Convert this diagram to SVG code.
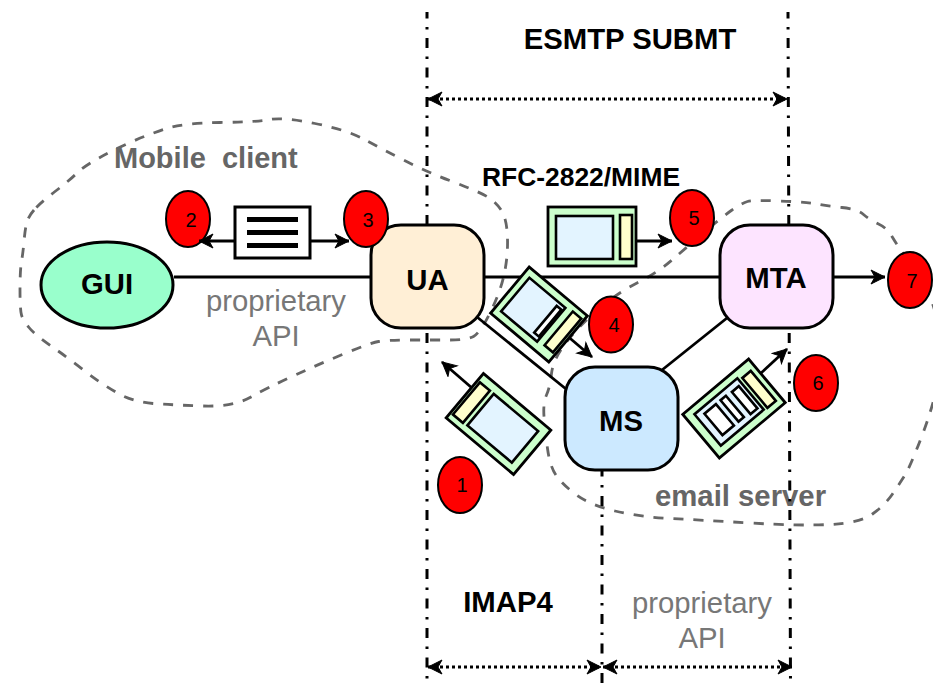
<svg xmlns="http://www.w3.org/2000/svg" width="933" height="683" viewBox="0 0 933 683">
<style>
text{font-family:"Liberation Sans",Arial,sans-serif}
.b{font-weight:bold;font-size:29.300px;fill:#000;text-anchor:middle}
.g{font-size:29.300px;fill:#777;text-anchor:middle}
.h{font-weight:bold;font-size:29px;fill:#666}
.n{font-size:20px;fill:#000;text-anchor:middle}
.blob{fill:none;stroke:#666;stroke-width:2.800;stroke-dasharray:10 10}
.red{fill:#f00;stroke:#000;stroke-width:2}
.box{stroke:#000;stroke-width:3}
.line{fill:none;stroke:#000;stroke-width:2.800}
.arr{fill:none;stroke:#000;stroke-width:2.800;marker-end:url(#ah)}
.dd{fill:none;stroke:#000;stroke-width:3;stroke-dasharray:10 8.5 2.5 8.5;stroke-dashoffset:3.5}
.dot{fill:none;stroke:#000;stroke-width:3;stroke-dasharray:3 3;marker-start:url(#ah);marker-end:url(#ah)}
.d{fill:#cfc;stroke:#000;stroke-width:2.800}
.i{fill:#e3f4ff;stroke:#000;stroke-width:2.600}
.y{fill:#ffc;stroke:#000;stroke-width:2.600}
.w{fill:#fff;stroke:#000;stroke-width:2.600}
</style>
<defs>
<marker id="ah" markerUnits="userSpaceOnUse" markerWidth="18" markerHeight="18" refX="15" refY="8" orient="auto-start-reverse">
<path d="M1,1 L15,8 L1,15 L5,8 Z" fill="#000" stroke="#000" stroke-width="1"/>
</marker>
</defs>
<g id="mobile-client-boundary">
<path class="blob" d="M34,210 Q28,217 26.5,223.5 Q25,230 24,241.5 Q23,253 21.5,261.5 Q20,270 20,290 Q20,310 21.5,315 Q23,320 29,327.5 Q35,335 51,346 Q67,357 83.5,370 Q100,383 116.5,392.5 Q133,402 153,403.5 Q173,405 203,406 Q233,407 250,397.5 Q267,388 292,376.5 Q317,365 343.5,354 Q370,343 378.5,341.5 Q387,340 408.5,340 Q430,340 448.5,340 Q467,340 473.5,336.5 Q480,333 490,313 Q500,293 504,275 Q508,257 507.5,238.5 Q507,220 502,211.5 Q497,203 488.5,197.5 Q480,192 453.5,182 Q427,172 403.5,160 Q380,148 363.5,139 Q347,130 315,123.5 Q283,117 270,119.5 Q257,122 220,122.5 Q183,123 165,129 Q147,135 130,142.5 Q113,150 98,158.5 Q83,167 76.5,173.5 Q70,180 55,191.5 Q40,203 34,210 Z"/>
<text class="h" x="114" y="168" xml:space="preserve">Mobile  client</text>
</g>
<g id="email-server-boundary">
<path class="blob" d="M597,310.5 Q617,293 637,283 Q657,273 672,260 Q687,247 704.5,232 Q722,217 732,210 Q742,203 747.5,201.5 Q753,200 780,201 Q807,202 817,204 Q827,206 842,207.5 Q857,209 863.5,214.5 Q870,220 878.5,224 Q887,228 892,236.5 Q897,245 906,257.5 Q915,270 923.5,284 Q932,298 938.5,324 Q945,350 939,378.5 Q933,407 921.5,437 Q910,467 905,475 Q900,483 892.5,494 Q885,505 872.5,514 Q860,523 830,524.5 Q800,526 750,523 Q700,520 670,518.5 Q640,517 615,511 Q590,505 576.5,495 Q563,485 556.5,476 Q550,467 547.5,448.5 Q545,430 544,416.5 Q543,403 546.5,395 Q550,387 551.5,373.5 Q553,360 565,344 Q577,328 597,310.5 Z"/>
<text class="h" x="655" y="506" style="font-size:29.300px">email server</text>
</g>
<g id="badge-2"><ellipse class="red" cx="188" cy="219" rx="22" ry="28"/><text class="n" x="191" y="227">2</text></g>
<g id="connectors">
<line class="dd" x1="427" y1="12" x2="427" y2="683"/>
<line class="dd" x1="788" y1="12" x2="790.5" y2="683"/>
<line class="dd" x1="602" y1="470" x2="602" y2="683"/>
<line class="dot" x1="428" y1="99" x2="787" y2="99"/>
<line class="dot" x1="428" y1="667" x2="601" y2="667"/>
<line class="dot" x1="603" y1="667" x2="792" y2="667"/>
<line class="line" x1="174" y1="277" x2="371" y2="277"/>
<line class="line" x1="484" y1="277" x2="720" y2="277"/>
<line class="line" x1="477" y1="317" x2="566" y2="389"/>
<line class="line" x1="662" y1="370" x2="727" y2="318"/>
<line class="arr" x1="833" y1="277" x2="885" y2="277"/>
<line class="arr" x1="235" y1="241" x2="199" y2="241"/>
<line class="arr" x1="310" y1="241" x2="349" y2="241"/>
<line class="arr" x1="636" y1="241" x2="672" y2="241"/>
<line class="arr" x1="565" y1="334" x2="592" y2="357"/>
<line class="arr" x1="472" y1="388" x2="442" y2="362"/>
<line class="arr" x1="760" y1="374" x2="787" y2="349"/>
</g>
<g id="gui"><ellipse class="box" cx="107" cy="285" rx="66" ry="43" fill="#9fc"/><text class="b" x="107" y="294">GUI</text></g>
<g id="ua"><rect class="box" x="371" y="225" width="113" height="103" rx="30" fill="#ffefd6"/><text class="b" x="427.500" y="290">UA</text></g>
<g id="mta"><rect class="box" x="720" y="225" width="113" height="103" rx="30" fill="#fde4ff"/><text class="b" x="776" y="288">MTA</text></g>
<g id="ms"><rect class="box" x="565" y="367" width="113" height="103" rx="30" fill="#cce9ff"/><text class="b" x="621" y="431">MS</text></g>
<g id="doc-2-3">
<rect x="235" y="207" width="75" height="51" fill="#fff" stroke="#000" stroke-width="3"/>
<rect x="247" y="217" width="51" height="5"/><rect x="247" y="230" width="51" height="5"/><rect x="247" y="243" width="51" height="5"/>
</g>
<g id="doc-5">
<rect class="d" x="548" y="207" width="88" height="59"/>
<rect class="i" x="556" y="216" width="57" height="43"/>
<rect class="y" x="620" y="215" width="12" height="44"/>
</g>
<g id="doc-4" transform="translate(539,314.500) rotate(40)">
<rect class="d" x="-38" y="-30" width="76" height="60"/>
<rect class="i" x="-31" y="-22" width="47" height="44"/>
<rect class="w" x="8" y="-18" width="6" height="35"/>
<rect class="y" x="24" y="-24" width="11" height="44"/>
</g>
<g id="doc-1" transform="translate(498.500,424) rotate(40)">
<rect class="d" x="-44" y="-29" width="88" height="58"/>
<rect class="y" x="-41" y="-20" width="13" height="42"/>
<rect class="i" x="-23" y="-20" width="58" height="41"/>
</g>
<g id="doc-6" transform="translate(734,408.500) rotate(-40)">
<rect class="d" x="-43" y="-28.500" width="86" height="57"/>
<rect class="i" x="-34" y="-21" width="56" height="41"/>
<rect class="w" x="-26" y="-15" width="15" height="28"/>
<rect class="w" x="-5" y="-15" width="7" height="28"/>
<rect class="w" x="9" y="-14" width="9" height="29"/>
<rect class="y" x="26" y="-18" width="11" height="39"/>
</g>
<g id="badge-1"><ellipse class="red" cx="460" cy="485" rx="22" ry="28"/><text class="n" x="462" y="492">1</text></g>
<g id="badge-3"><ellipse class="red" cx="366" cy="219" rx="22" ry="28"/><text class="n" x="368" y="227">3</text></g>
<g id="badge-4"><ellipse class="red" cx="611" cy="324.500" rx="22" ry="28"/><text class="n" x="614" y="332">4</text></g>
<g id="badge-5"><ellipse class="red" cx="692" cy="218" rx="22" ry="28"/><text class="n" x="694" y="225">5</text></g>
<g id="badge-6"><ellipse class="red" cx="816" cy="383" rx="22" ry="28"/><text class="n" x="818" y="390">6</text></g>
<g id="badge-7"><ellipse class="red" cx="910" cy="280" rx="22" ry="28"/><text class="n" x="912" y="288">7</text></g>
<g id="labels">
<text class="b" x="630" y="49">ESMTP SUBMT</text>
<text class="b" x="581" y="186" style="font-size:26.400px">RFC-2822/MIME</text>
<text class="b" x="508" y="612">IMAP4</text>
<text class="g" x="276" y="311">proprietary</text>
<text class="g" x="276" y="346">API</text>
<text class="g" x="702" y="613">proprietary</text>
<text class="g" x="702" y="648">API</text>
</g>
</svg>
